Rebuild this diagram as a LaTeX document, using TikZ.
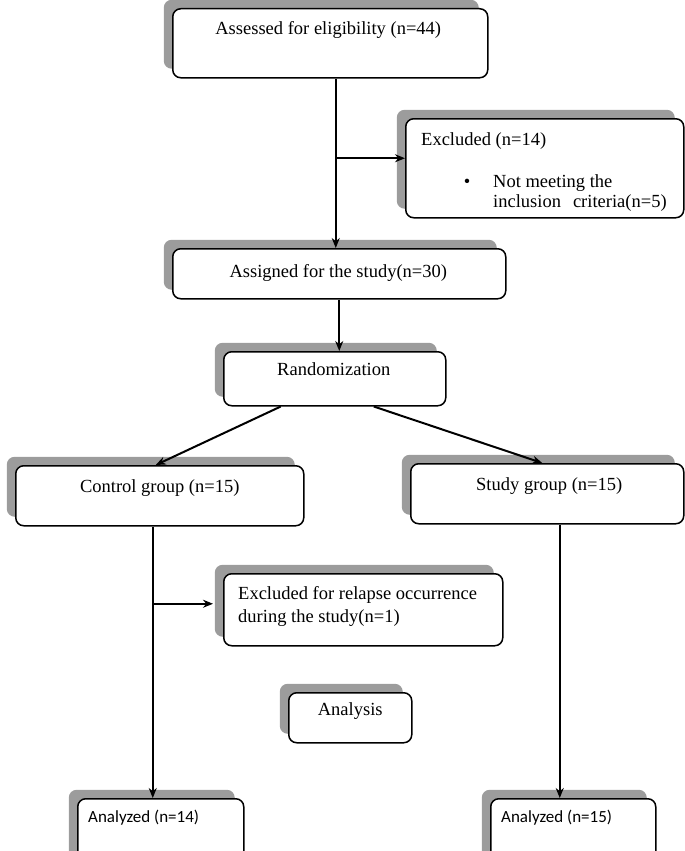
\documentclass[tikz,border=0pt]{standalone}
\usepackage{fontspec}
\setmainfont{Liberation Serif}
\newfontfamily\analyzedfont{Carlito}
\usetikzlibrary{arrows.meta,positioning,shadows}
\definecolor{shadowgray}{HTML}{9C9C9C}

\begin{document}
\begin{tikzpicture}[x=1pt,y=-1pt,
    box/.style={draw,line width=1.5pt,rounded corners=8pt,fill=white,anchor=north west,inner sep=0pt,
      drop shadow={shadow xshift=-9pt,shadow yshift=9pt,fill=shadowgray,opacity=1}},
    txt/.style={inner sep=0pt,anchor=base,font=\fontsize{18.5}{22}\selectfont},
    antxt/.style={inner sep=0pt,anchor=base west,font=\analyzedfont\fontsize{17}{20}\selectfont},
    link/.style={line width=2pt,-{Stealth[length=10pt,width=8pt]}}]
  \useasboundingbox (0,0) rectangle (685,851);
  \clip (0,0) rectangle (685,851);

  \node[box,minimum width=315pt,minimum height=69pt] (assessed) at (172,8) {};
  \node[box,minimum width=278pt,minimum height=99pt] (excluded) at (405,118) {};
  \node[box,minimum width=333pt,minimum height=50pt] (assigned) at (172,248) {};
  \node[box,minimum width=222pt,minimum height=54pt] (random) at (223,351) {};
  \node[box,minimum width=288pt,minimum height=60pt] (control) at (15,465) {};
  \node[box,minimum width=273pt,minimum height=60pt] (study) at (410,463) {};
  \node[box,minimum width=279pt,minimum height=72pt] (relapse) at (223,573) {};
  \node[box,minimum width=123pt,minimum height=50pt] (analysis) at (288,692) {};
  \node[box,minimum width=166pt,minimum height=70pt] (analyzedA) at (77,798) {};
  \node[box,minimum width=165pt,minimum height=70pt] (analyzedB) at (490,798) {};

  \node[txt] (assessedtxt) at ([xshift=-2pt,yshift=-27pt]assessed.north) {Assessed for eligibility (n=44)};
  \node[txt,anchor=base west] (exclhead) at ([xshift=16pt,yshift=-27pt]excluded.north west) {Excluded (n=14)};
  \node[txt] (exclbullet) at ([xshift=62pt,yshift=-69pt]excluded.north west) {\textbullet};
  \node[txt,anchor=base west] (exclreasonA) at ([xshift=88pt,yshift=-69pt]excluded.north west) {Not meeting the};
  \node[txt,anchor=base west] (exclreasonB) at ([xshift=88pt,yshift=-89pt]excluded.north west) {inclusion\hspace{12pt}criteria(n=5)};
  \node[txt] (assignedtxt) at ([xshift=-1pt,yshift=-29pt]assigned.north) {Assigned for the study(n=30)};
  \node[txt] (randomtxt) at ([xshift=-1pt,yshift=-24pt]random.north) {Randomization};
  \node[txt] (controltxt) at ([yshift=-27pt]control.north) {Control group (n=15)};
  \node[txt] (studytxt) at ([xshift=2pt,yshift=-27pt]study.north) {Study group (n=15)};
  \node[txt,anchor=base west] (relapsetxtA) at ([xshift=15pt,yshift=-26pt]relapse.north west) {Excluded for relapse occurrence};
  \node[txt,anchor=base west] (relapsetxtB) at ([xshift=15pt,yshift=-49pt]relapse.north west) {during the study(n=1)};
  \node[txt] (analysistxt) at ([yshift=-23pt]analysis.north) {Analysis};
  \node[antxt] (analyzedAtxt) at ([xshift=11pt,yshift=-24pt]analyzedA.north west) {Analyzed (n=14)};
  \node[antxt] (analyzedBtxt) at ([xshift=11pt,yshift=-24pt]analyzedB.north west) {Analyzed (n=15)};

  \coordinate (mainline) at ([xshift=5.5pt]assessed.south);
  \coordinate (exclarrow) at ([yshift=10pt]excluded.west);
  \coordinate (ctrlline) at ([xshift=-7pt]control.south);
  \coordinate (relapsearrow) at ([xshift=-10pt,yshift=6pt]relapse.west);
  \coordinate (studyline) at ([xshift=12.5pt]study.south);

  \draw[link] (mainline) -- (mainline |- assigned.north);
  \draw[link] (mainline |- exclarrow) -- (exclarrow);
  \draw[link] (assigned.south) -- (assigned.south |- random.north);
  \draw[link] ([xshift=-54pt]random.south) -- ([xshift=-4pt]control.north);
  \draw[link] ([xshift=39pt]random.south) -- ([xshift=-5pt]study.north);
  \draw[link] (ctrlline) -- (ctrlline |- analyzedA.north);
  \draw[link] (ctrlline |- relapsearrow) -- (relapsearrow);
  \draw[link] (studyline) -- (studyline |- analyzedB.north);
\end{tikzpicture}
\end{document}
